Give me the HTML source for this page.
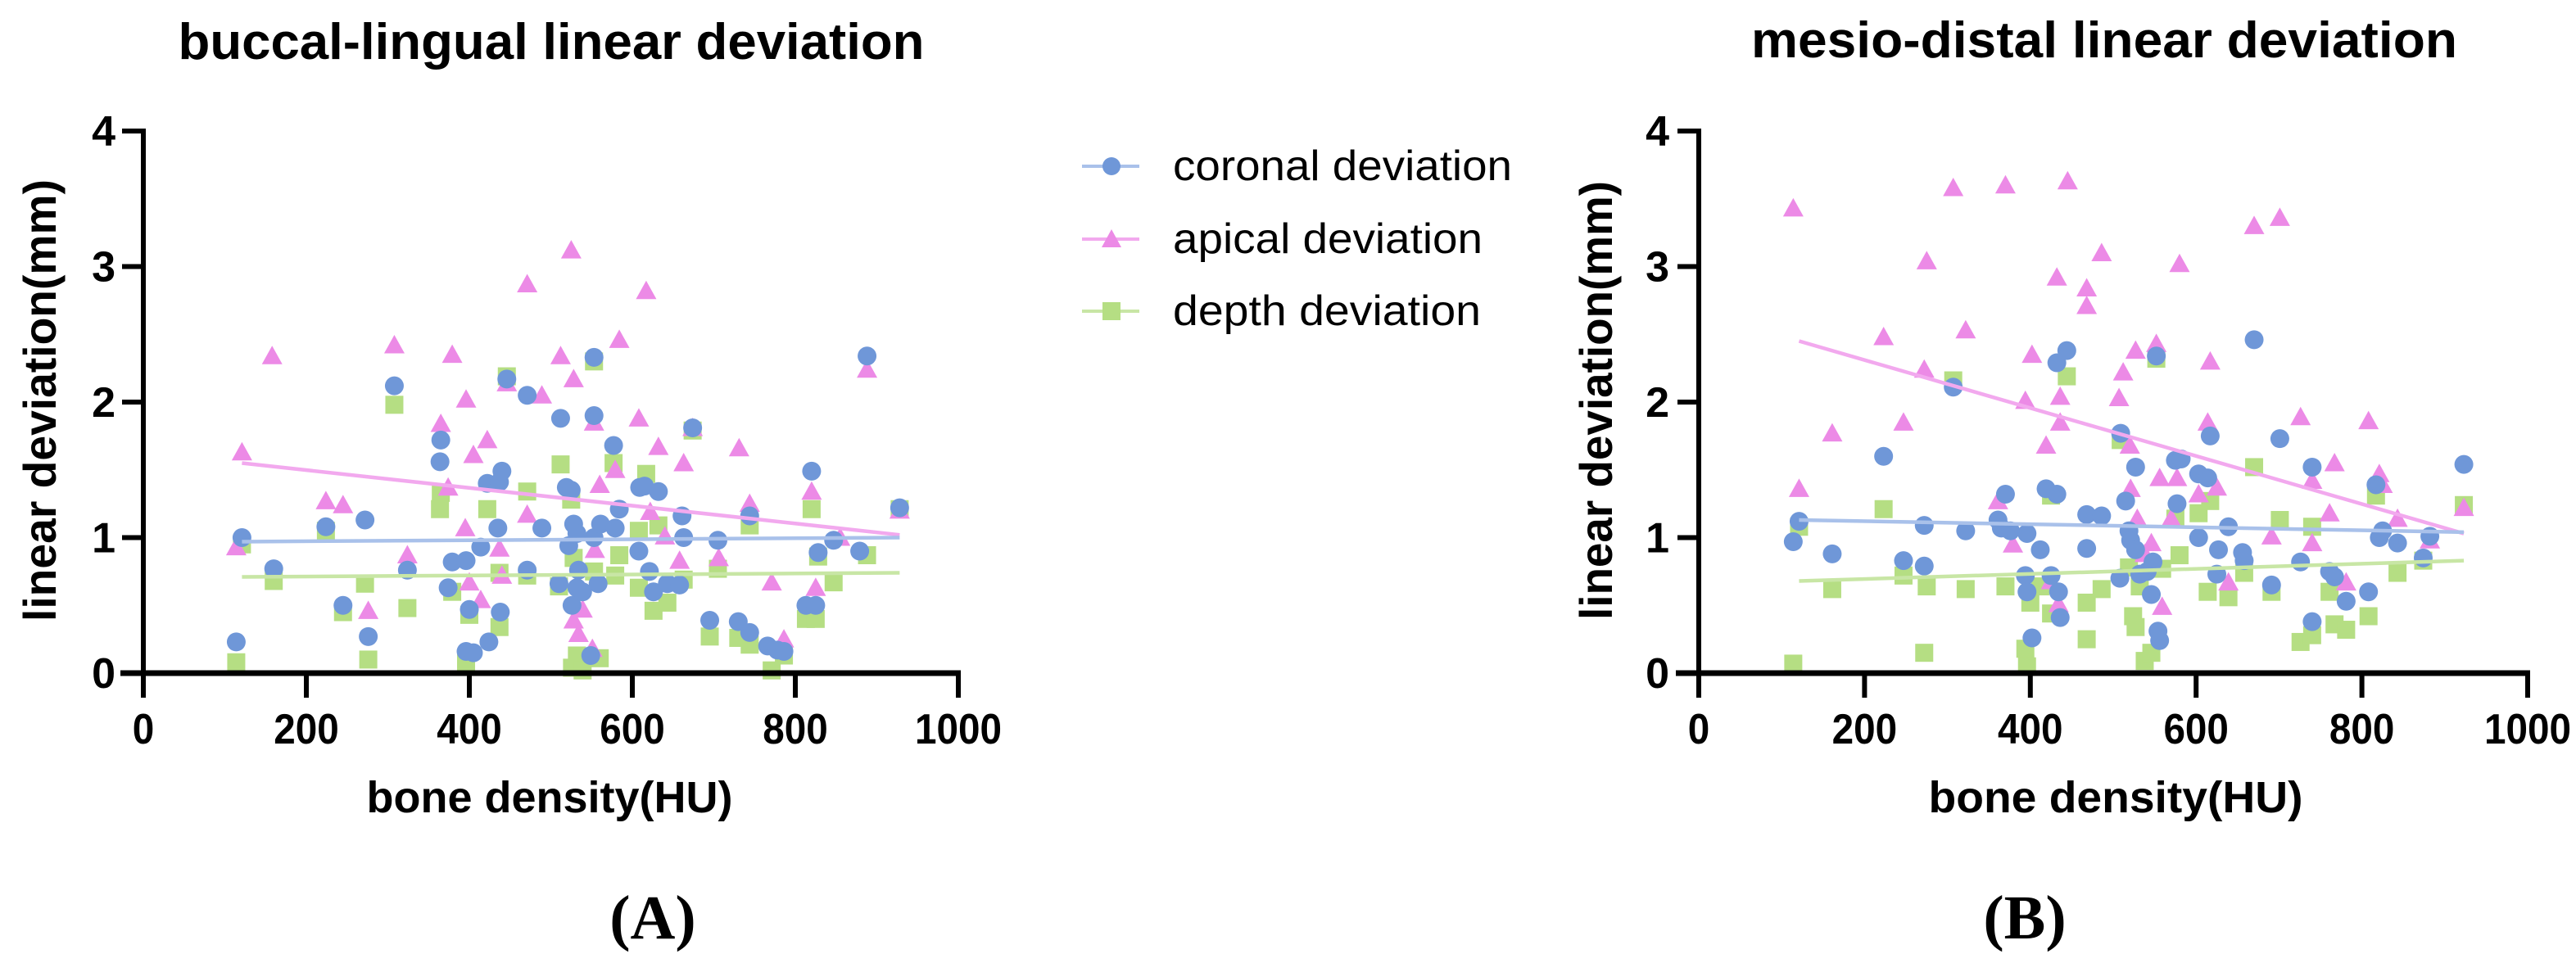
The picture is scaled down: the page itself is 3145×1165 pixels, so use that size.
<!DOCTYPE html>
<html><head><meta charset="utf-8"><style>
html,body{margin:0;padding:0;background:#fff;}
svg{display:block;}
text{font-family:"Liberation Sans",Arial,sans-serif;}
</style></head><body>
<svg id="fig" width="3145" height="1165" viewBox="0 0 3145 1165">
  <text x="673" y="72" font-size="62" font-weight="bold" text-anchor="middle" textLength="911" lengthAdjust="spacingAndGlyphs">buccal-lingual linear deviation</text>
  <text x="2569" y="70" font-size="62" font-weight="bold" text-anchor="middle" textLength="862" lengthAdjust="spacingAndGlyphs">mesio-distal linear deviation</text>
  <text transform="translate(68,489) rotate(-90)" font-size="56" font-weight="bold" text-anchor="middle" textLength="540" lengthAdjust="spacingAndGlyphs">linear deviation(mm)</text>
  <text transform="translate(1968,489) rotate(-90)" font-size="56" font-weight="bold" text-anchor="middle" textLength="536" lengthAdjust="spacingAndGlyphs">linear deviation(mm)</text>
  <text x="671" y="992" font-size="54" font-weight="bold" text-anchor="middle" textLength="447" lengthAdjust="spacingAndGlyphs">bone density(HU)</text>
  <text x="2583" y="992" font-size="54" font-weight="bold" text-anchor="middle" textLength="457" lengthAdjust="spacingAndGlyphs">bone density(HU)</text>
  <text x="797" y="1146" font-size="76" font-weight="bold" text-anchor="middle" style="font-family:'Liberation Serif',serif">(A)</text>
  <text x="2472" y="1146" font-size="76" font-weight="bold" text-anchor="middle" style="font-family:'Liberation Serif',serif">(B)</text>
  <g id="legend">
    <g>
      <line x1="1321" y1="203" x2="1391" y2="203" stroke="#a9c1ea" stroke-width="4"/>
      <circle cx="1357" cy="203" r="11" fill="#6f97d8"/>
      <text x="1432" y="220" font-size="52" textLength="414" lengthAdjust="spacingAndGlyphs">coronal deviation</text>
    </g>
    <g>
      <line x1="1321" y1="292" x2="1391" y2="292" stroke="#f2a9ee" stroke-width="4"/>
      <polygon points="1357,280 1369,302 1345,302" fill="#ec8ae6"/>
      <text x="1432" y="309" font-size="52" textLength="378" lengthAdjust="spacingAndGlyphs">apical deviation</text>
    </g>
    <g>
      <line x1="1321" y1="380" x2="1391" y2="380" stroke="#c8e6a5" stroke-width="4"/>
      <rect x="1346" y="369" width="22" height="22" fill="#b5de83"/>
      <text x="1432" y="397" font-size="52" textLength="376" lengthAdjust="spacingAndGlyphs">depth deviation</text>
    </g>
  </g>
</svg>
<script>
const xTicks=[0,200,400,600,800,1000];
const yTicks=[0,1,2,3,4];
// Panel A (buccal-lingual)
const aCorX=[121,114,160,224,245,272,276,308,324,365,364,374,379,396,400,396,405,414,422,424,437,440,435,438,446,471,471,489,512,510,519,525,522,526,528,532,534,532,539,549,553,553,553,558,561,577,579,584,608,609,615,621,626,632,643,658,661,663,674,695,705,730,744,744,766,778,786,813,825,820,828,847,879,888,928];
const aCorY=[1.0,0.23,0.77,1.08,0.50,1.13,0.27,2.12,0.76,1.72,1.56,0.63,0.82,0.83,0.47,0.16,0.15,0.93,1.40,0.23,1.41,1.49,1.07,0.45,2.17,2.05,0.76,1.07,1.88,0.66,1.37,1.35,0.94,0.50,1.10,1.03,0.76,0.63,0.60,0.13,2.33,1.90,1.0,0.66,1.10,1.68,1.07,1.21,0.90,1.37,1.38,0.75,0.60,1.34,0.66,0.65,1.16,1.00,1.81,0.39,0.98,0.38,0.30,1.16,0.20,0.17,0.16,0.50,0.50,1.49,0.89,0.98,0.90,2.34,1.22];
const aApiX=[121,114,158,224,245,276,308,324,365,379,374,396,395,400,405,414,422,437,440,446,471,471,489,512,525,528,528,534,539,551,554,553,560,584,579,608,617,622,632,640,658,663,674,706,731,744,771,786,820,825,888,928,855];
const aApiY=[1.63,0.93,2.34,1.27,1.24,0.46,2.42,0.87,1.84,2.35,1.37,2.02,1.07,0.67,1.61,0.54,1.72,0.92,0.72,2.14,2.87,1.17,2.05,2.34,3.12,2.17,0.39,0.29,0.47,0.18,0.91,1.85,1.39,2.46,1.50,1.88,2.82,1.19,1.67,1.01,0.83,1.55,1.81,0.85,1.66,1.25,0.67,0.25,1.34,0.63,2.24,1.20,1.0];
const aDepX=[114,121,160,224,245,272,276,308,324,365,364,379,396,400,422,437,437,446,471,471,512,510,525,526,532,539,528,553,553,560,577,579,584,608,608,617,626,632,643,663,674,695,705,730,744,744,771,786,813,825,820,828,847,888,928];
const aDepY=[0.08,0.95,0.68,1.05,0.45,0.66,0.10,1.98,0.48,1.33,1.21,0.60,0.08,0.43,1.21,0.34,0.74,2.19,1.34,0.72,1.54,0.64,1.28,0.04,0.13,0.02,0.85,2.30,0.75,0.11,1.55,0.72,0.87,1.05,0.63,1.47,0.46,1.09,0.52,0.69,1.79,0.27,0.77,0.26,0.21,1.09,0.02,0.13,0.40,0.40,1.21,0.86,0.67,0.87,1.21];
const aFitCor=[121,0.97,928,1.00];
const aFitApi=[121,1.55,928,1.02];
const aFitDep=[121,0.71,928,0.74];
// Panel B (mesio-distal)
const bCorX=[114,121,161,223,247,272,272,307,322,361,365,370,376,394,396,396,402,412,419,425,432,434,436,432,444,468,468,486,508,509,515,519,521,527,527,532,541,546,548,552,556,554,575,577,582,603,603,614,617,627,625,639,658,656,670,691,701,726,740,740,761,767,781,808,817,821,825,843,874,882,923];
const bCorY=[0.97,1.12,0.88,1.60,0.83,1.09,0.79,2.11,1.05,1.13,1.07,1.32,1.05,0.72,0.60,1.03,0.26,0.91,1.36,0.72,1.32,0.60,0.41,2.29,2.38,0.92,1.17,1.16,0.70,1.77,1.27,1.05,0.98,1.52,0.91,0.73,0.75,0.58,0.82,2.34,0.24,0.31,1.57,1.25,1.58,1.00,1.47,1.44,1.75,0.91,0.73,1.08,0.83,0.89,2.46,0.65,1.73,0.82,1.52,0.38,0.75,0.71,0.53,0.60,1.39,1.00,1.05,0.96,0.85,1.01,1.54];
const bApiX=[114,121,161,223,247,272,275,307,322,370,361,379,394,402,419,425,432,434,436,436,445,468,468,486,507,512,520,527,521,529,538,546,552,556,559,570,577,580,603,614,617,625,639,670,691,701,726,740,740,761,767,781,808,821,825,843,882,923];
const bApiY=[3.43,1.36,1.77,2.48,1.85,2.24,3.04,3.58,2.53,3.60,1.27,0.95,2.01,2.35,1.68,0.68,2.92,0.51,2.04,1.85,3.63,2.84,2.71,3.10,2.03,2.22,1.68,2.38,1.36,1.14,0.88,0.96,2.43,1.44,0.49,1.14,1.44,3.02,1.32,1.85,2.30,1.37,0.67,3.30,1.01,3.36,1.89,1.42,0.96,1.18,1.55,0.67,1.86,1.47,1.39,1.14,0.98,1.22];
const bDepX=[114,121,161,223,247,272,275,307,322,370,394,396,400,412,425,425,444,468,468,486,509,519,524,527,532,538,546,552,559,575,580,603,614,617,639,658,670,691,701,726,740,740,761,767,781,808,817,843,874,923];
const bDepY=[0.07,1.08,0.62,1.21,0.72,0.15,0.64,2.16,0.62,0.64,0.18,0.05,0.52,0.64,1.31,0.44,2.19,0.52,0.25,0.62,1.72,0.78,0.42,0.34,0.64,0.09,0.15,2.32,0.77,1.14,0.87,1.18,0.60,1.27,0.56,0.74,1.52,0.60,1.13,0.23,1.08,0.28,0.60,0.36,0.32,0.42,1.31,0.74,0.83,1.24];
const bFitCor=[121,1.13,923,1.04];
const bFitApi=[121,2.45,923,1.03];
const bFitDep=[121,0.68,923,0.83];

const NS='http://www.w3.org/2000/svg';
const svg=document.getElementById('fig');
const legend=document.getElementById('legend');
const Y0=822, YU=165.5;
function yS(v){return Y0-v*YU;}
const COL={cor:'#6f97d8',api:'#ec8ae6',dep:'#b5de83'};
const LCOL={cor:'#a9c1ea',api:'#f2a9ee',dep:'#c8e6a5'};

function panel(id,x0,xu,tickRight,data){
  const xS=v=>x0+v*xu;
  const g=document.createElementNS(NS,'g');
  
  
  svg.insertBefore(g,legend);
  function add(tag,attrs){const e=document.createElementNS(NS,tag);for(const k in attrs)e.setAttribute(k,attrs[k]);g.appendChild(e);return e;}
  const series=[['dep',data.depX,data.depY],['api',data.apiX,data.apiY],['cor',data.corX,data.corY]];
  series.forEach(([s,xs,ys])=>{
    const sg=document.createElementNS(NS,'g');
    
    
    g.appendChild(sg);
    xs.forEach((xv,i)=>{
      const cx=xS(xv), cy=yS(ys[i]);
      let e;
      if(s==='cor'){e=document.createElementNS(NS,'circle');e.setAttribute('cx',cx);e.setAttribute('cy',cy);e.setAttribute('r',11.5);}
      else if(s==='api'){e=document.createElementNS(NS,'polygon');e.setAttribute('points',cx+','+(cy-12.5)+' '+(cx+12.5)+','+(cy+10)+' '+(cx-12.5)+','+(cy+10));}
      else {e=document.createElementNS(NS,'rect');e.setAttribute('x',cx-11);e.setAttribute('y',cy-11);e.setAttribute('width',22);e.setAttribute('height',22);}
      e.setAttribute('fill',COL[s]);
      
      
      sg.appendChild(e);
    });
  });
  [['dep',data.fitDep],['api',data.fitApi],['cor',data.fitCor]].forEach(([s,f])=>{
    const l=add('line',{x1:xS(f[0]),y1:yS(f[1]),x2:xS(f[2]),y2:yS(f[3]),stroke:LCOL[s],'stroke-width':4.5});
    
    
  });
  const xa=add('line',{x1:x0-28,y1:Y0,x2:xS(1000)+3,y2:Y0,stroke:'#000','stroke-width':7});
  
  
  const ya=add('line',{x1:x0,y1:yS(4)-3,x2:x0,y2:Y0+30,stroke:'#000','stroke-width':6});
  
  
  xTicks.forEach(t=>{
    add('line',{x1:xS(t),y1:Y0,x2:xS(t),y2:Y0+30,stroke:'#000','stroke-width':6});
    const tx=add('text',{x:xS(t),y:908,'font-size':52,'font-weight':'bold','text-anchor':'middle',textLength:String(t).length*26.5,lengthAdjust:'spacingAndGlyphs'});
    tx.textContent=t;
    
    
  });
  yTicks.forEach(t=>{
    add('line',{x1:x0-26,y1:yS(t),x2:x0,y2:yS(t),stroke:'#000','stroke-width':6});
    const tx=add('text',{x:tickRight,y:yS(t)+18,'font-size':52,'font-weight':'bold','text-anchor':'end'});
    tx.textContent=t;
    
    
  });
}
panel('a',175,0.995,141,{corX:aCorX,corY:aCorY,apiX:aApiX,apiY:aApiY,depX:aDepX,depY:aDepY,fitCor:aFitCor,fitApi:aFitApi,fitDep:aFitDep});
panel('b',2074,1.012,2038,{corX:bCorX,corY:bCorY,apiX:bApiX,apiY:bApiY,depX:bDepX,depY:bDepY,fitCor:bFitCor,fitApi:bFitApi,fitDep:bFitDep});
</script>
</body></html>
